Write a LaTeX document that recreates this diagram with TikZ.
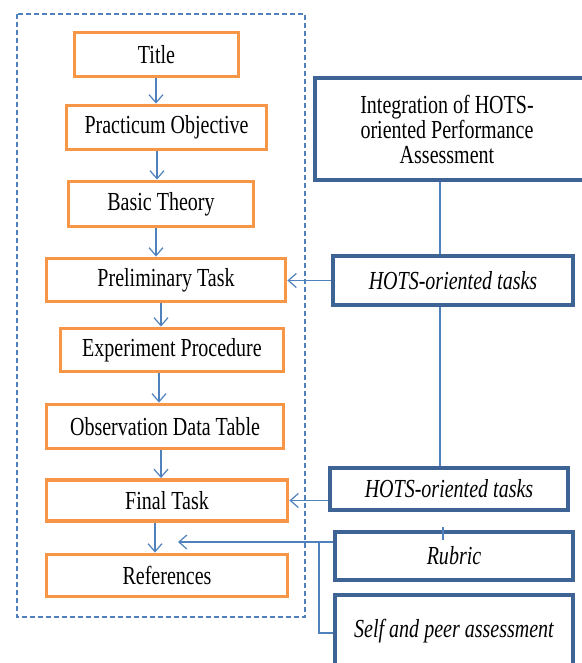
\documentclass[tikz,border=0pt]{standalone}
\usepackage{fontspec}
\setmainfont{Liberation Serif}[FakeStretch=0.77]
\usetikzlibrary{arrows.meta}
\definecolor{floworange}{HTML}{F79646}
\definecolor{boxblue}{HTML}{3E6496}
\definecolor{linkblue}{HTML}{4F81BD}
\tikzset{
  stepbox/.style={draw=floworange, line width=3.9pt, fill=white, inner sep=0pt,
    font=\fontsize{26}{25}\selectfont},
  hotsbox/.style={draw=boxblue, line width=4.7pt, fill=white, inner sep=0pt,
    font=\fontsize{26}{25}\selectfont\itshape},
  link/.style={draw=linkblue, line width=1.2pt},
  arr/.style={link, -{Straight Barb[length=8pt,width=14pt,line width=1.2pt]}},
}
\begin{document}
\begin{tikzpicture}[x=1pt,y=-1pt]
\useasboundingbox (0,0) rectangle (581,663);

% dashed frame round the worksheet outline
\draw[linkblue, line width=1.3pt, dash pattern=on 5pt off 3pt] (17,14) rectangle (305,617);

% worksheet sections
\node[stepbox, minimum width=164pt, minimum height=44pt] (title) at (156.5,54.5) {Title};
\node[stepbox, minimum width=200pt, minimum height=44pt] (obj)   at (166.5,127.5) {Practicum Objective};
\node[stepbox, minimum width=185pt, minimum height=45pt] (basic) at (161,204) {Basic Theory};
\node[stepbox, minimum width=239pt, minimum height=43pt] (prelim) at (166,280) {Preliminary Task};
\node[stepbox, minimum width=223pt, minimum height=43pt] (exp)   at (172,350) {Experiment Procedure};
\node[stepbox, minimum width=237pt, minimum height=44pt] (obs)   at (165,426.5) {Observation Data Table};
\node[stepbox, minimum width=241pt, minimum height=41pt] (final) at (167,500.5) {Final Task};
\node[stepbox, minimum width=241pt, minimum height=42pt] (refs)  at (167,575.5) {References};

% assessment components
\node[hotsbox, font=\fontsize{26}{25}\selectfont, align=center,
      minimum width=272pt, minimum height=102pt] (integ) at (451,129)
  {\hspace*{-8pt}Integration of HOTS-\\\hspace*{-8pt}oriented Performance\\\hspace*{-8pt}Assessment};
\node[hotsbox, minimum width=240pt, minimum height=49pt] (hots1) at (453,280.5) {HOTS-oriented tasks};
\node[hotsbox, minimum width=238pt, minimum height=42pt] (hots2) at (449,489) {HOTS-oriented tasks};
\node[hotsbox, minimum width=238pt, minimum height=48pt] (rubric) at (454,556) {Rubric};
\node[hotsbox, minimum width=238pt, minimum height=72pt] (self) at (454,631) {Self and peer assessment};

% flow through the worksheet
\coordinate (c1) at (156,0);
\coordinate (c2) at (157,0);
\coordinate (c3) at (156,0);
\coordinate (c4) at (161,0);
\coordinate (c5) at (159,0);
\coordinate (c6) at (161,0);
\coordinate (c7) at (155,0);
\draw[arr] (title.south -| c1) -- (obj.north -| c1);
\draw[arr] (obj.south -| c2) -- (basic.north -| c2);
\draw[arr] (basic.south -| c3) -- (prelim.north -| c3);
\draw[arr] (prelim.south -| c4) -- (exp.north -| c4);
\draw[arr] (exp.south -| c5) -- (obs.north -| c5);
\draw[arr] (obs.south -| c6) -- (final.north -| c6);
\draw[arr] (final.south -| c7) -- (refs.north -| c7);

% assessment spine
\coordinate (spine) at (440,0);
\draw[link] (integ.south -| spine) -- (hots1.north -| spine);
\draw[link] (hots1.south -| spine) -- (hots2.north -| spine);
\coordinate (stubtop) at (443,527);
\coordinate (stubbot) at (443,540);
\draw[link] (stubtop) -- (stubbot);

% tasks feeding the worksheet
\draw[arr] (hots1.west) -- (prelim.east |- hots1.west);
\draw[arr] (hots2.west |- final.east) -- (final.east);

% rubric and self/peer assessment feeding the final stage
\coordinate (join) at (178,542);
\coordinate (branch) at (319,542);
\draw[arr] (rubric.west |- branch) -- (join);
\draw[link] (branch) -- (branch |- 0,633) -- (self.west |- 0,633);
\end{tikzpicture}
\end{document}
